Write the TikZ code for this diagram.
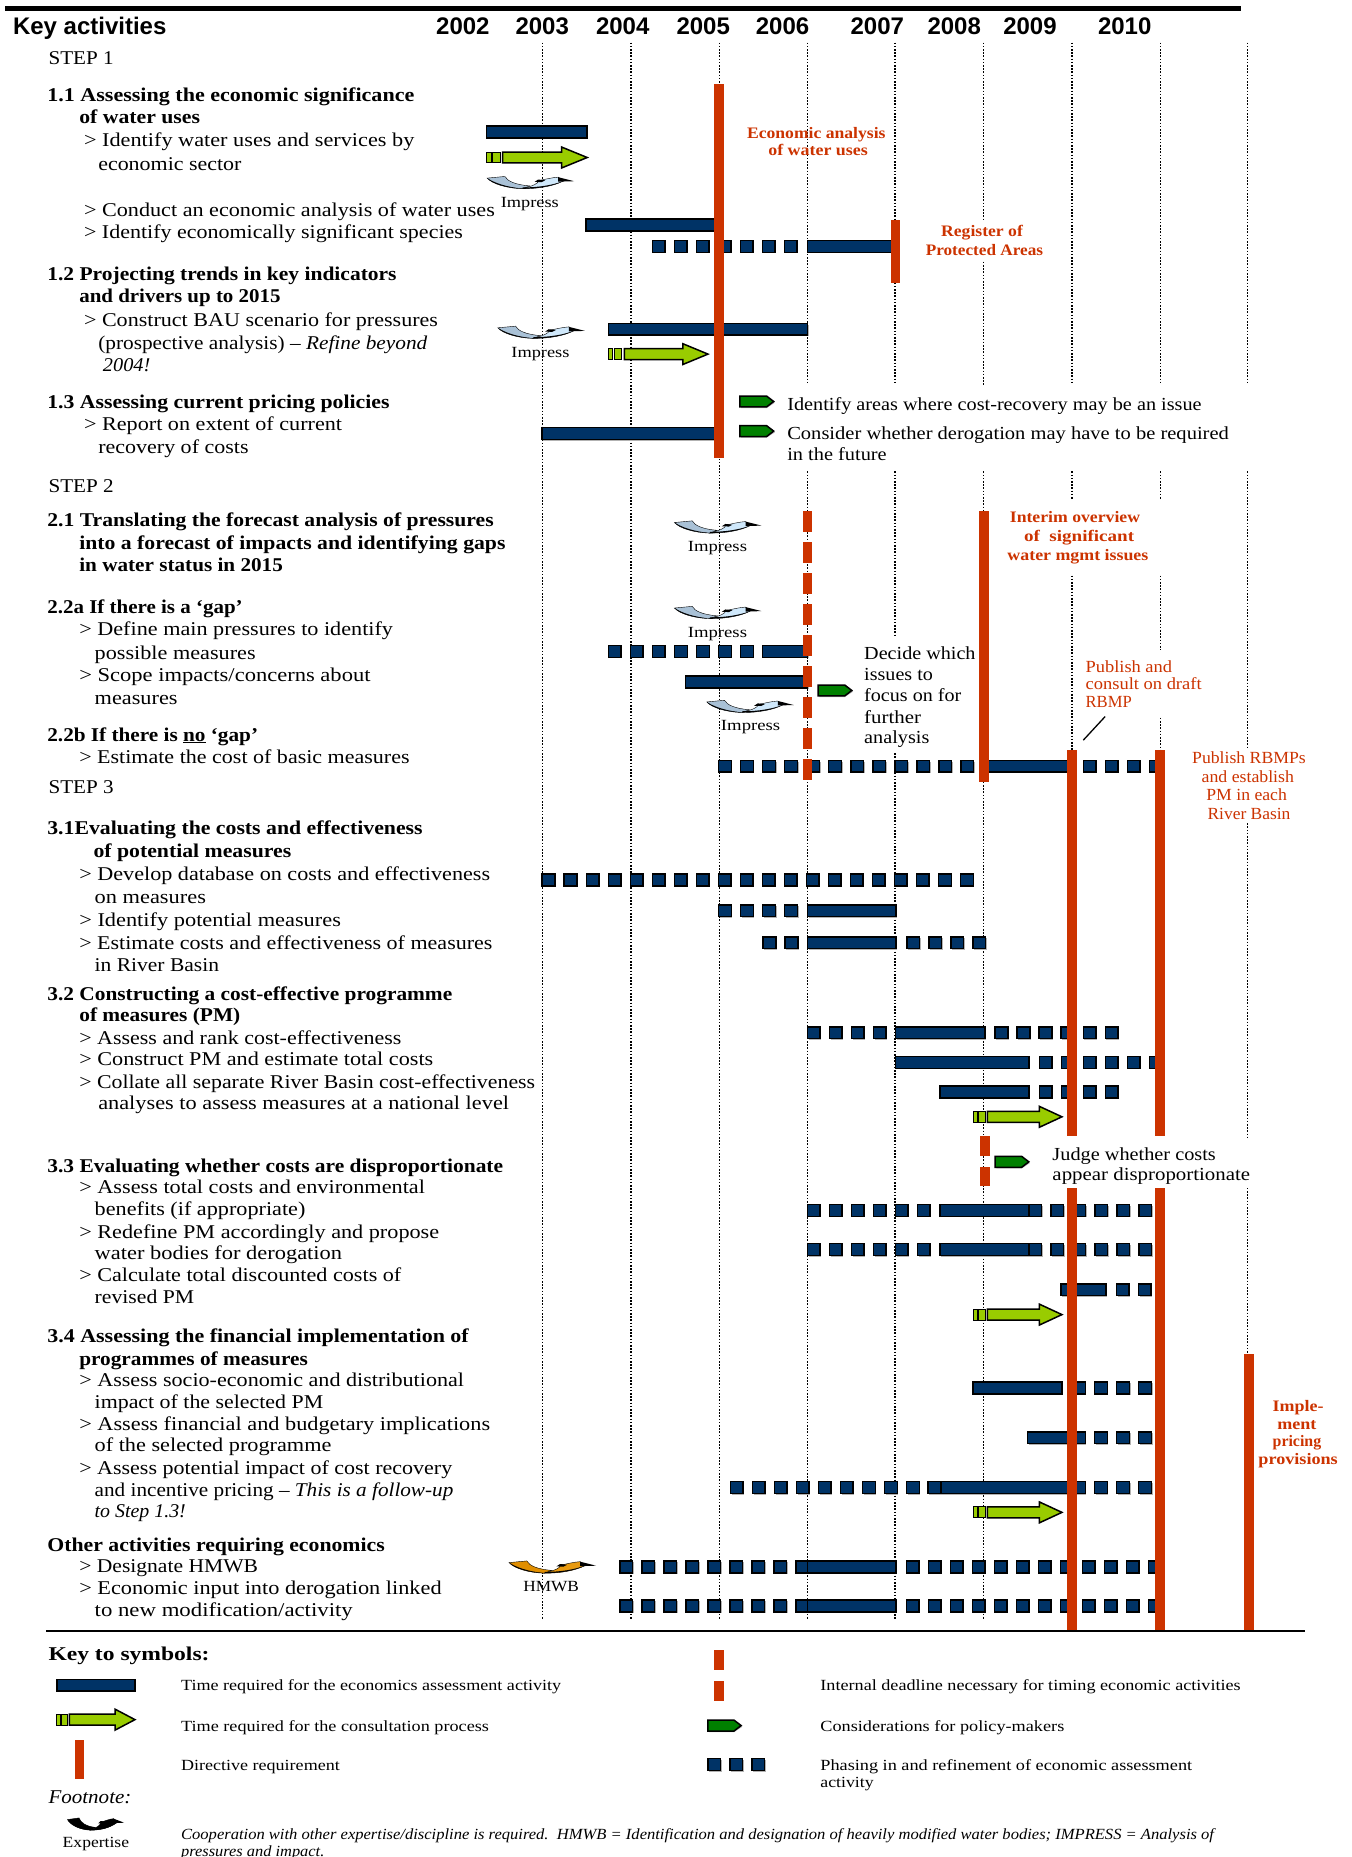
\documentclass[tikz,border=0pt]{standalone}
\usepackage{fontspec}
\setmainfont{Liberation Serif}[FakeStretch=1.13]
\newfontfamily\hdfont{Liberation Sans}
\definecolor{navy}{HTML}{003366}
\definecolor{dirred}{HTML}{CC3300}
\definecolor{lime}{HTML}{99CC00}
\definecolor{leaf}{HTML}{008000}
\definecolor{swirlA}{HTML}{A9C1D6}
\definecolor{swirlB}{HTML}{CFE8FB}
\definecolor{hmA}{HTML}{E08E00}
\definecolor{hmB}{HTML}{E89A10}
\newcount\tn
\tikzset{
  tx/.style={anchor=base west,inner sep=0pt,outer sep=0pt,font=\fontsize{19.5}{22}\selectfont},
  bd/.style={font=\fontsize{19.5}{22}\selectfont\bfseries},
  note/.style={font=\fontsize{18.4}{22}\selectfont},
  redb/.style={yshift=1.3pt,text=dirred,font=\fontsize{16}{18}\selectfont\bfseries},
  redn/.style={yshift=1.3pt,text=dirred,font=\fontsize{17}{18}\selectfont},
  small/.style={yshift=1.3pt,font=\fontsize{15.5}{18}\selectfont},
  head/.style={font=\fontsize{24}{26}\hdfont\bfseries},
  gridln/.style={line width=1.2pt,dash pattern=on 1.6pt off 1.6pt,black},
  barst/.style={draw=black,line width=1.5pt,fill=navy},
  shadow/.style={fill=black!30},
  redst/.style={fill=dirred},
  arrst/.style={draw=black,line width=1.5pt,fill=lime},
  grnst/.style={draw=black,line width=1.5pt,fill=leaf},
}
% text line: [style]{x start}{y centre}{x end}{text}
\newcommand\tx[5][]{\global\advance\tn by 1\node[tx,#1] (t\the\tn) at (#2,#3+5.7) {\pgfmathsetlengthmacro\lnw{(#4-#2)*1.18389}\resizebox{\lnw}{\height}{#5}};}
\newcommand\txn[4][]{\global\advance\tn by 1\node[tx,#1] (t\the\tn) at (#2,#3+5.7) {#4};}
\newcommand\bbar[3]{\fill[shadow] (#1+1,#3-4) rectangle (#2+1,#3+6);\draw[barst] (#1,#3-5) rectangle (#2,#3+5);}
\newcommand\ddash[3]{\foreach \i in {1,...,#2}{\fill[shadow] ({#1+18.6*(\i-1)+1},#3-4) rectangle ++(10.7,10);\draw[barst] ({#1+18.6*(\i-1)},#3-5) rectangle ++(10.7,10);}}
\newcommand\redv[3]{\fill[redst] (#1-4,#2) rectangle (#1+4,#3);}
\newcommand\gridv[3]{\draw[gridln] (#1,#2) -- (#1,#3);}
% consultation arrow: x, y, length
\newcommand\consarrow[3]{\begin{scope}[shift={(#1,#2)},xscale=#3/75]
  \draw[arrst,line width=1pt] (0,-4.6) rectangle (3.3,4.6);
  \draw[arrst,line width=1pt] (4.5,-4.6) rectangle (10,4.6);
  \draw[arrst] (12,-4.6) -- (56,-4.6) -- (56,-8.8) -- (75,0) -- (56,8.8) -- (56,4.6) -- (12,4.6) -- cycle;
\end{scope}}
\newcommand\grn[3][28.5]{\begin{scope}[shift={(#2,#3)}]
  \fill[black!30] (1,-3.6) -- ({#1-6},-3.6) -- (#1+1,1) -- ({#1-6},5.6) -- (1,5.6) -- cycle;
  \draw[grnst] (0,-4.6) -- ({#1-6},-4.6) -- (#1,0) -- ({#1-6},4.6) -- (0,4.6) -- cycle;
\end{scope}}
% swirl: x, top y, left colour, right colour
\newcommand\swirl[5][1]{\begin{scope}[shift={(#2,#3)},xscale=#1]
  \fill[#4,draw=black,line width=.4pt] (0,1.4) -- (15,0) .. controls (17,4) and (24,7) .. (36,8) -- (30,10.3) .. controls (16,10) and (4,6) .. (0,1.4) -- cycle;
  \fill[black] (0,1.4) .. controls (4,6) and (16,10) .. (30,10.3) .. controls (24,9.6) and (10,8) .. (0,1.4) -- cycle;
  \fill[#5,draw=black,line width=.4pt] (30,10.3) .. controls (44,10.4) and (56,8) .. (64,4) -- (60,.6) .. controls (54,1) and (49,2.5) .. (43,3.6) .. controls (44,6) and (38,8) .. (30,10.3) -- cycle;
  \fill[black] (60,.6) -- (73.5,4) -- (60,4.4) -- cycle;
  \fill[black] (43,2.6) -- (49,3.2) -- (46,4.8) -- (40,4.6) -- cycle;
  \fill[black] (30,10.3) .. controls (44,10.4) and (56,8) .. (64,4) .. controls (56,7) and (44,9.4) .. (30,9.2) -- cycle;
\end{scope}}
\begin{document}
\begin{tikzpicture}[x=1.18389pt,y=-1.18431pt]
\useasboundingbox (0,0) rectangle (1142,1568);
\fill[white] (0,0) rectangle (1142,1568);
% top rule
\fill[black] (4,5) rectangle (1048,9.5);
% grid
\gridv{458}{36}{1367}
\gridv{533}{36}{1367}
\gridv{607.5}{36}{1367}
\gridv{682}{36}{325}\gridv{682}{398}{1367}
\gridv{756}{36}{325}\gridv{756}{398}{536}\gridv{756}{636}{1367}
\gridv{831}{36}{185}\gridv{831}{221}{325}\gridv{831}{398}{1367}
\gridv{905.5}{36}{325}\gridv{905.5}{398}{422}\gridv{905.5}{486}{640}
\gridv{980}{36}{325}\gridv{980}{398}{422}\gridv{980}{486}{549}\gridv{980}{606}{640}
\gridv{1054}{36}{325}\gridv{1054}{398}{633}\gridv{1054}{695}{960}\gridv{1054}{1003}{1150}
% bars
\bbar{411}{496}{111.5}
\bbar{495}{605}{190}
\ddash{551}{7}{208}\bbar{682}{754}{208}
\bbar{514}{682}{278}
\bbar{458}{605}{366}
\ddash{514}{7}{550}\bbar{644}{682}{550}
\bbar{579}{682}{576}
\ddash{607}{12}{647}\bbar{831}{905}{647}\ddash{915}{4}{647}
\ddash{458}{20}{743}
\ddash{607}{4}{769}\bbar{682}{757}{769}
\ddash{644.6}{2}{796}\bbar{682}{757}{796}\ddash{766}{4}{796}
\ddash{682}{4}{872}\bbar{756.6}{832}{872}\ddash{840.6}{6}{872}
\bbar{756.6}{869}{897}\ddash{878}{6}{897}
\bbar{794}{869}{922}\ddash{878}{4}{922}
\ddash{682}{6}{1022}\ddash{869}{6}{1022}\bbar{794}{869}{1022}
\ddash{682}{6}{1055}\ddash{869}{6}{1055}\bbar{794}{869}{1055}
\bbar{896}{934}{1089}\ddash{943}{2}{1089}
\bbar{822}{897}{1172}\ddash{906}{4}{1172}
\bbar{868}{903}{1214}\ddash{906}{4}{1214}
\ddash{617}{9}{1256}\ddash{784}{1}{1256}\bbar{795}{906}{1256}\ddash{906}{4}{1256}
\ddash{523.6}{9}{1323}\bbar{682}{757}{1323}\ddash{765.5}{12}{1323}
\ddash{523.6}{9}{1356}\bbar{682}{757}{1356}\ddash{765.5}{12}{1356}
% consultation arrows
\consarrow{411}{133}{85}
\consarrow{514}{299}{84}
\consarrow{822}{943}{75}
\consarrow{822}{1110}{75}
\consarrow{822}{1277}{75}
% considerations
\grn{625}{339}
\grn{625}{364}
\grn{691}{583}
\grn{840.5}{981}
% swirls
\swirl{411.5}{149}{swirlA}{swirlB}
\swirl{420.5}{275.4}{swirlA}{swirlB}
\swirl{569.7}{439.8}{swirlA}{swirlB}
\swirl{569.7}{512}{swirlA}{swirlB}
\swirl{597}{591.3}{swirlA}{swirlB}
\swirl{430}{1318}{hmA}{hmB}
% directive requirement lines
\redv{607.5}{71}{387}
\redv{756.5}{186}{239}
\foreach \k in {0,...,8}{\redv{682}{431.6+26.2*\k}{449.3+26.2*\k}}
\redv{831}{431.6}{660.5}
\redv{905.5}{633}{959.6}\redv{905.5}{1003.5}{1377}
\redv{980}{633}{959.6}\redv{980}{1003.5}{1377}
\redv{1055}{1143.5}{1377}
\redv{831.8}{959.6}{976.4}\redv{831.8}{985}{1001.8}
% diagonal
\coordinate (diagA) at (915,625);
\coordinate (diagB) at (933.5,605);
\draw[black,line width=1.3pt] (diagA) -- (diagB);
% bottom rule
\fill[black] (39,1376) rectangle (1102,1377.6);
% header
\txn[head]{11}{23.3}{Key activities}
\foreach \yy/\xx in {2002/391,2003/458,2004/526,2005/594,2006/661,2007/741,2008/806,2009/870,2010/950}{\txn[head,anchor=base]{\xx}{23.3}{\yy}}
% left text
\tx{41}{49}{96}{STEP 1}
\tx[bd]{40}{80}{350}{1.1 Assessing the economic significance}
\tx[bd]{67}{99}{169}{of water uses}
\tx{71}{118}{350}{> Identify water uses and services by}
\tx{83}{138}{204}{economic sector}
\tx{71}{177}{418}{> Conduct an economic analysis of water uses}
\tx{71}{196}{391}{> Identify economically significant species}
\tx[bd]{40}{231}{335}{1.2 Projecting trends in key indicators}
\tx[bd]{67}{250}{237}{and drivers up to 2015}
\tx{71}{270}{370}{> Construct BAU scenario for pressures}
\tx{83}{289}{361}{(prospective analysis) – \textit{Refine beyond}}
\tx{87}{308}{127}{\textit{2004!}}
\tx[bd]{40}{339}{329}{1.3 Assessing current pricing policies}
\tx{71}{358}{289}{> Report on extent of current}
\tx{83}{377}{210}{recovery of costs}
\tx{41}{410}{96}{STEP 2}
\tx[bd]{40}{439}{417}{2.1 Translating the forecast analysis of pressures}
\tx[bd]{67}{458}{427}{into a forecast of impacts and identifying gaps}
\tx[bd]{67}{477}{239}{in water status in 2015}
\tx[bd]{40}{512}{205}{2.2a If there is a ‘gap’}
\tx{67}{531}{332}{> Define main pressures to identify}
\tx{80}{551}{216}{possible measures}
\tx{67}{570}{313}{> Scope impacts/concerns about}
\tx{80}{589}{150}{measures}
\tx[bd]{40}{620}{218}{2.2b If there is \underline{no} ‘gap’}
\tx{67}{639}{346}{> Estimate the cost of basic measures}
\tx{41}{664}{96}{STEP 3}
\tx[bd]{40}{699}{357}{3.1Evaluating the costs and effectiveness}
\tx[bd]{79}{718}{246}{of potential measures}
\tx{67}{738}{414}{> Develop database on costs and effectiveness}
\tx{80}{757}{174}{on measures}
\tx{67}{777}{288}{> Identify potential measures}
\tx{67}{796}{416}{> Estimate costs and effectiveness of measures}
\tx{80}{815}{185}{in River Basin}
\tx[bd]{40}{839}{382}{3.2 Constructing a cost-effective programme}
\tx[bd]{67}{857}{203}{of measures (PM)}
\tx{67}{876}{339}{> Assess and rank cost-effectiveness}
\tx{67}{894}{366}{> Construct PM and estimate total costs}
\tx{67}{913}{452}{> Collate all separate River Basin cost-effectiveness}
\tx{83}{931}{430}{analyses to assess measures at a national level}
\tx[bd]{40}{984}{425}{3.3 Evaluating whether costs are disproportionate}
\tx{67}{1002}{359}{> Assess total costs and environmental}
\tx{80}{1021}{258}{benefits (if appropriate)}
\tx{67}{1040}{371}{> Redefine PM accordingly and propose}
\tx{80}{1058}{289}{water bodies for derogation}
\tx{67}{1076}{339}{> Calculate total discounted costs of}
\tx{80}{1095}{164}{revised PM}
\tx[bd]{40}{1128}{396}{3.4 Assessing the financial implementation of}
\tx[bd]{67}{1147}{260}{programmes of measures}
\tx{67}{1165}{392}{> Assess socio-economic and distributional}
\tx{80}{1184}{273}{impact of the selected PM}
\tx{67}{1202}{414}{> Assess financial and budgetary implications}
\tx{80}{1220}{280}{of the selected programme}
\tx{67}{1239}{382}{> Assess potential impact of cost recovery}
\tx{80}{1258}{383}{and incentive pricing – \textit{This is a follow-up}}
\tx{80}{1276}{157}{\textit{to Step 1.3!}}
\tx[bd]{40}{1304}{325}{Other activities requiring economics}
\tx{67}{1322}{218}{> Designate HMWB}
\tx{67}{1341}{373}{> Economic input into derogation linked}
\tx{80}{1359}{298}{to new modification/activity}
% impress labels
\tx[small]{423}{171}{472}{Impress}
\tx[small]{432}{297}{481}{Impress}
\tx[small]{581}{461}{631}{Impress}
\tx[small]{581}{534}{631}{Impress}
\tx[small]{609}{612}{659}{Impress}
\tx[small]{442}{1339}{489}{HMWB}
% annotations
\tx[redb]{631}{112}{748}{Economic analysis}
\tx[redb]{649}{127}{733}{of water uses}
\tx[redb]{795}{195}{864}{Register of}
\tx[redb]{782}{211}{881}{Protected Areas}
\tx[redb]{853}{437}{963}{Interim overview}
\tx[redb]{865}{453}{958}{of \ significant}
\tx[redb]{851}{469}{970}{water mgmt issues}
\tx[redn]{917}{563}{990}{Publish and}
\tx[redn]{917}{578}{1015}{consult on draft}
\tx[redn]{917}{593}{956}{RBMP}
\tx[redn]{1007}{640}{1103}{Publish RBMPs}
\tx[redn]{1015}{656}{1093}{and establish}
\tx[redn]{1019}{671}{1087}{PM in each}
\tx[redn]{1020}{687}{1090}{River Basin}
\tx[redb]{1075}{1187}{1118}{Imple-}
\tx[redb]{1079}{1202}{1112}{ment}
\tx[redb]{1075}{1217}{1116}{pricing}
\tx[redb]{1063}{1232}{1130}{provisions}
\tx[note]{665}{341}{1015}{Identify areas where cost-recovery may be an issue}
\tx[note]{665}{365}{1038}{Consider whether derogation may have to be required}
\tx[note]{665}{383}{749}{in the future}
\tx[note]{730}{551}{824}{Decide which}
\tx[note]{730}{569}{788}{issues to}
\tx[note]{730}{587}{812}{focus on for}
\tx[note]{730}{605}{778}{further}
\tx[note]{730}{622}{785}{analysis}
\tx[note]{889}{974}{1027}{Judge whether costs}
\tx[note]{889}{991}{1056}{appear disproportionate}
% key
\tx[bd]{41}{1396}{177}{Key to symbols:}
\bbar{48}{114}{1423}
\consarrow{48}{1452}{66}
\redv{67}{1469}{1502}
\tx[small]{153}{1423}{474}{Time required for the economics assessment activity}
\tx[small]{153}{1457}{413}{Time required for the consultation process}
\tx[small]{153}{1490}{287}{Directive requirement}
\tx{41}{1517}{111}{\textit{Footnote:}}
\swirl[.65]{57}{1535}{black}{black}
\tx[small]{53}{1555}{109}{Expertise}
\tx[small]{153}{1549}{1027}{\textit{Cooperation with other expertise/discipline is required.\ \ HMWB = Identification and designation of heavily modified water bodies; IMPRESS = Analysis of}}
\tx[small]{153}{1563}{274}{\textit{pressures and impact.}}
\redv{607.5}{1393}{1410}
\redv{607.5}{1419}{1436}
\grn[28]{598}{1457}
\ddash{598}{3}{1490}
\tx[small]{693}{1423}{1048}{Internal deadline necessary for timing economic activities}
\tx[small]{693}{1457}{899}{Considerations for policy-makers}
\tx[small]{693}{1490}{1007}{Phasing in and refinement of economic assessment}
\tx[small]{693}{1505}{738}{activity}
\end{tikzpicture}
\end{document}
